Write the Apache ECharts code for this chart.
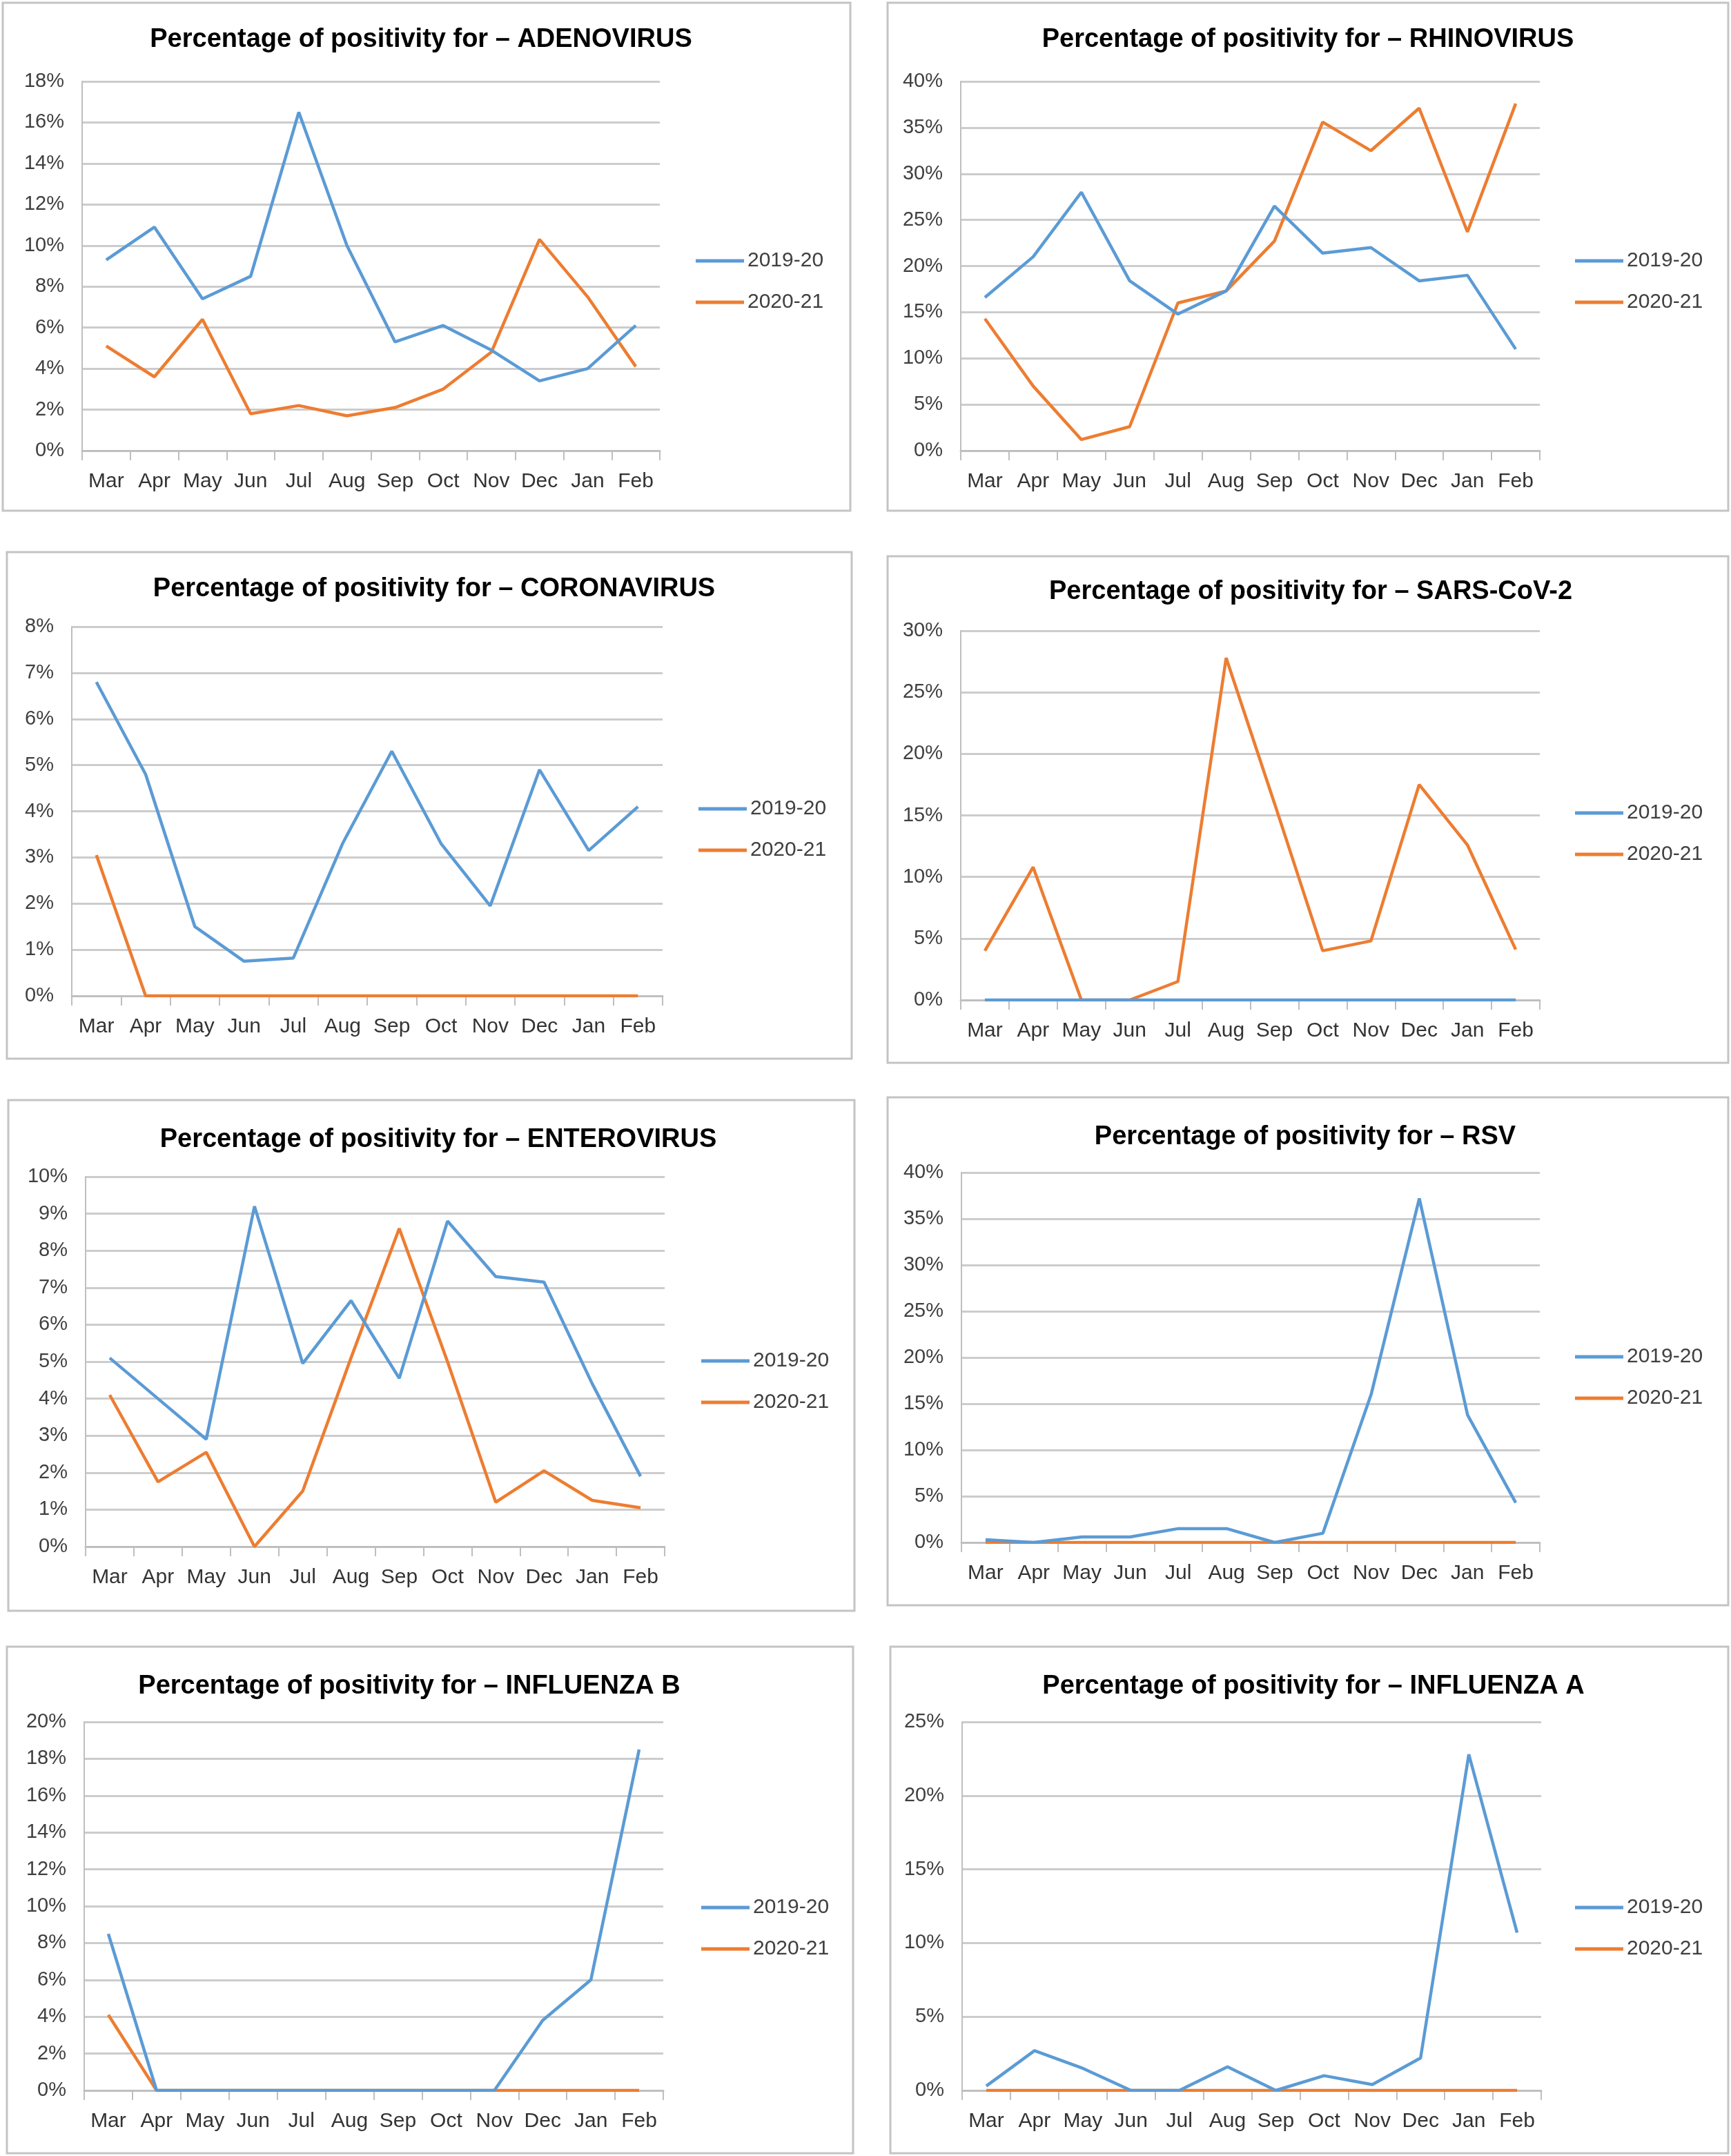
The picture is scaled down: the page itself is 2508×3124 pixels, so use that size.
<!DOCTYPE html>
<html>
<head>
<meta charset="utf-8">
<script src="https://cdn.jsdelivr.net/npm/echarts@6/dist/echarts.min.js"></script>
<style>
html,body{margin:0;padding:0;background:#fff;}
#main{width:2508px;height:3124px;}
</style>
</head>
<body>
<div id="main"></div>
<script>
// ---- Data ----
const months = ['Mar','Apr','May','Jun','Jul','Aug','Sep','Oct','Nov','Dec','Jan','Feb'];
const seriesNames = ['2019-20','2020-21'];

const adeno1920 = [9.3,10.9,7.4,8.5,16.5,10.0,5.3,6.1,4.9,3.4,4.0,6.1];
const adeno2021 = [5.1,3.6,6.4,1.8,2.2,1.7,2.1,3.0,4.8,10.3,7.5,4.1];

const rhino1920 = [16.6,21.0,28.0,18.4,14.8,17.3,26.5,21.4,22.0,18.4,19.0,11.0];
const rhino2021 = [14.3,7.0,1.2,2.6,16.0,17.3,22.7,35.6,32.5,37.1,23.7,37.6];

const corona1920 = [6.8,4.8,1.5,0.75,0.82,3.3,5.3,3.3,1.95,4.9,3.15,4.1];
const corona2021 = [3.05,0,0,0,0,0,0,0,0,0,0,0];

const sars1920 = [0,0,0,0,0,0,0,0,0,0,0,0];
const sars2021 = [4.0,10.8,0,0,1.5,27.8,16.0,4.0,4.8,17.5,12.6,4.1];

const entero1920 = [5.1,4.0,2.9,9.2,4.95,6.65,4.55,8.8,7.3,7.15,4.4,1.9];
const entero2021 = [4.1,1.75,2.55,0,1.5,5.1,8.6,5.0,1.2,2.05,1.25,1.05];

const rsv1920 = [0.3,0,0.6,0.6,1.5,1.5,0,1.0,16.0,37.2,13.8,4.3];
const rsv2021 = [0,0,0,0,0,0,0,0,0,0,0,0];

const fluB1920 = [8.5,0,0,0,0,0,0,0,0,3.8,6.0,18.5];
const fluB2021 = [4.1,0,0,0,0,0,0,0,0,0,0,0];

const fluA1920 = [0.3,2.7,1.5,0,0,1.6,0,1.0,0.4,2.2,22.8,10.7];
const fluA2021 = [0,0,0,0,0,0,0,0,0,0,0,0];

const titles = ['ADENOVIRUS','RHINOVIRUS','CORONAVIRUS','SARS-CoV-2','ENTEROVIRUS','RSV','INFLUENZA B','INFLUENZA A'];
const yMax = [18,40,8,30,10,40,20,25];
const yStep = [2,5,1,5,1,5,2,5];
const panelData = [
  [adeno1920, adeno2021],
  [rhino1920, rhino2021],
  [corona1920, corona2021],
  [sars1920, sars2021],
  [entero1920, entero2021],
  [rsv1920, rsv2021],
  [fluB1920, fluB2021],
  [fluA1920, fluA2021]
];

// ---- Layout (pixels) ----
const grids = [
  {left:119, top:118, width:837, height:535},
  {left:1392, top:118, width:839, height:535},
  {left:104, top:908, width:856, height:535},
  {left:1392, top:914, width:839, height:535},
  {left:124, top:1705, width:839, height:536},
  {left:1393, top:1699, width:838, height:536},
  {left:122, top:2495, width:839, height:534},
  {left:1394, top:2495, width:839, height:534}
];
const titlePos = [[610,58],[1895,58],[629,854],[1899,858],[635,1652],[1891,1648],[593,2444],[1903,2444]];
// legend: left edge of line, vertical centre of first item
const legendPos = [[1008,378],[2282,378],[1012,1172],[2282,1178],[1016,1972],[2282,1966],[1016,2764],[2282,2764]];
const borders = [
  [4,4,1228,736],[1286,4,1218,736],
  [10,800,1224,734],[1286,806,1218,734],
  [12,1594,1226,740],[1286,1590,1218,736],
  [10,2386,1226,734],[1290,2386,1214,734]
];

const FONT = 'Liberation Sans, Arial, sans-serif';
const BLUE = '#5b9bd5', ORANGE = '#ed7d31';

const option = {
  animation:false,
  backgroundColor:'#fff',
  title:[], legend:[], grid:[], xAxis:[], yAxis:[], series:[],
  graphic: borders.map(b => ({
    type:'rect', shape:{x:b[0], y:b[1], width:b[2], height:b[3]},
    style:{fill:null, stroke:'#c4c4c4', lineWidth:3}, silent:true, z:-1
  }))
};

for (let i = 0; i < 8; i++) {
  option.title.push({
    text:'Percentage of positivity for – ' + titles[i],
    left:titlePos[i][0], top:titlePos[i][1], textAlign:'center', textVerticalAlign:'middle',
    padding:0,
    textStyle:{fontFamily:FONT, fontSize:38, fontWeight:'bold', color:'#000'}
  });
  option.legend.push({
    data:seriesNames.map(n => ({name:n, icon:'rect'})),
    orient:'vertical', left:legendPos[i][0], top:legendPos[i][1] - 15,
    padding:0, itemWidth:70, itemHeight:5, itemGap:30,
    textStyle:{fontFamily:FONT, fontSize:30, lineHeight:30, color:'#404040'},
    selectedMode:false
  });
  option.grid.push(Object.assign({containLabel:false}, grids[i]));
  option.xAxis.push({
    type:'category', gridIndex:i, data:months, boundaryGap:true,
    axisLine:{show:true, lineStyle:{color:'#bfbfbf', width:3}},
    axisTick:{show:true, alignWithLabel:false, length:14, lineStyle:{color:'#bfbfbf', width:2}},
    axisLabel:{fontFamily:FONT, fontSize:30, color:'#333', margin:30, interval:0},
    splitLine:{show:false}
  });
  option.yAxis.push({
    type:'value', gridIndex:i, min:0, max:yMax[i], interval:yStep[i],
    axisLine:{show:true, lineStyle:{color:'#bfbfbf', width:2}},
    axisTick:{show:false},
    axisLabel:{fontFamily:FONT, fontSize:29, color:'#404040', margin:26, formatter:'{value}%'},
    splitLine:{show:true, lineStyle:{color:'#cccccc', width:3}}
  });
  [0,1].forEach(k => {
    option.series.push({
      type:'line', name:seriesNames[k], xAxisIndex:i, yAxisIndex:i,
      data:panelData[i][k], symbol:'none', smooth:false,
      lineStyle:{color:k===0?BLUE:ORANGE, width:4.5},
      itemStyle:{color:k===0?BLUE:ORANGE},
      z: k===0 ? 3 : 2
    });
  });
}

const chart = echarts.init(document.getElementById('main'), null, {renderer:'canvas'});
chart.setOption(option);
</script>
</body>
</html>
